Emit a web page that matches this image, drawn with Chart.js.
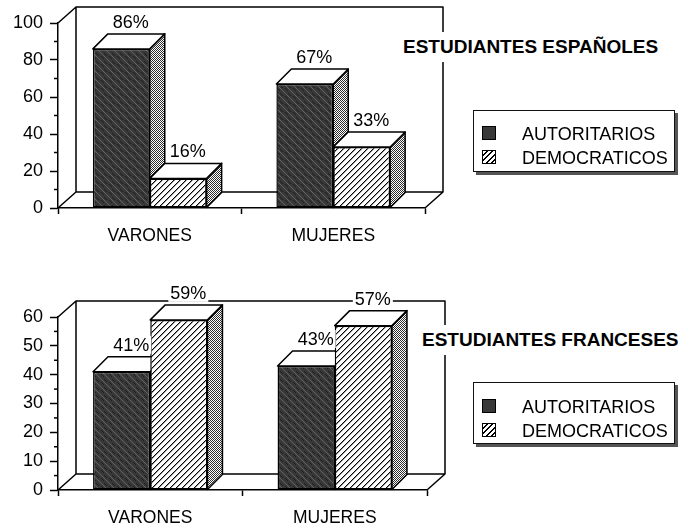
<!DOCTYPE html>
<html>
<head>
<meta charset="utf-8">
<script src="https://cdn.jsdelivr.net/npm/chart.js@4.4.1/dist/chart.umd.min.js"></script>
<style>
  html,body{margin:0;padding:0;background:#fff;}
  #wrap{position:relative;width:690px;height:530px;overflow:hidden;background:#fff;font-family:"Liberation Sans",Arial,sans-serif;color:#000;}
  canvas{position:absolute;left:0;}
  .title{position:absolute;font-weight:bold;font-size:19px;line-height:22px;background:#fff;padding:4px 2px;white-space:nowrap;}
  .legend{position:absolute;width:200px;height:60px;border:1.5px solid #111;box-shadow:3px 3px 0 #555;background:#fff;}
  .row{position:absolute;left:8px;height:20px;font-size:18px;line-height:20px;white-space:nowrap;}
  .sw{display:inline-block;width:12px;height:12px;border:1px solid #000;vertical-align:middle;margin-right:26px;position:relative;top:-2px;}
  .aut{background:#383838;}
  .dem{background:repeating-linear-gradient(135deg,#fff 0 2.4px,#000 2.4px 3.8px);}
</style>
</head>
<body>
<div id="wrap">
  <canvas id="c1" width="690" height="262" style="top:0"></canvas>
  <canvas id="c2" width="690" height="268" style="top:262px"></canvas>
  <div class="title" style="left:401px;top:32px">ESTUDIANTES ESPAÑOLES</div>
  <div class="legend" style="left:473px;top:110px">
    <div class="row" style="top:13px"><span class="sw aut"></span>AUTORITARIOS</div>
    <div class="row" style="top:37px"><span class="sw dem"></span>DEMOCRATICOS</div>
  </div>
  <div class="title" style="left:420px;top:325px">ESTUDIANTES FRANCESES</div>
  <div class="legend" style="left:473px;top:382px">
    <div class="row" style="top:14px"><span class="sw aut"></span>AUTORITARIOS</div>
    <div class="row" style="top:38px"><span class="sw dem"></span>DEMOCRATICOS</div>
  </div>
</div>
<script>
// ---- data ----
const categories = ['VARONES', 'MUJERES'];
const seriesNames = ['AUTORITARIOS', 'DEMOCRATICOS'];
const espAutoritarios = [86, 67];
const espDemocraticos = [16, 33];
const fraAutoritarios = [41, 43];
const fraDemocraticos = [59, 57];
const espTicks = [0, 20, 40, 60, 80, 100];
const fraTicks = [0, 10, 20, 30, 40, 50, 60];

// ---- patterns ----
function makePattern(size, fn) {
  const c = document.createElement('canvas');
  c.width = c.height = size;
  const g = c.getContext('2d');
  const img = g.createImageData(size, size);
  for (let y = 0; y < size; y++) for (let x = 0; x < size; x++) {
    const v = fn(x, y), i = (y * size + x) * 4;
    img.data[i] = img.data[i + 1] = img.data[i + 2] = v; img.data[i + 3] = 255;
  }
  g.putImageData(img, 0, 0);
  return g.createPattern(c, 'repeat');
}
const stipple = makePattern(8, (x, y) => ((x * 5 + y * 3) % 8 === 0) ? 100 : (((x * 3 + y * 7) % 5 === 0) ? 30 : 56));
const hatch = makePattern(6, (x, y) => { const k = (x + y) % 6; return k === 5 ? 0 : (k === 0 ? 150 : 255); });
const checker = makePattern(2, (x, y) => ((x + y) % 2) ? 255 : 45);

const FONT = "'Liberation Sans', Arial, sans-serif";

const cubePlugin = {
  id: 'cube',
  beforeDatasetsDraw(chart, args, o) {
    const ctx = chart.ctx, ca = chart.chartArea;
    const wx = o.wallX, wy = o.wallY, d = o.depth;
    ctx.save();
    ctx.strokeStyle = '#000'; ctx.lineWidth = 1.5; ctx.lineJoin = 'round';
    ctx.beginPath();
    ctx.moveTo(ca.left, ca.top); ctx.lineTo(ca.left + wx, ca.top - wy);
    ctx.lineTo(ca.right + wx, ca.top - wy); ctx.lineTo(ca.right + wx, ca.bottom - wy);
    ctx.lineTo(ca.right, ca.bottom);
    ctx.moveTo(ca.left, ca.bottom); ctx.lineTo(ca.left + wx, ca.bottom - wy);
    ctx.lineTo(ca.right + wx, ca.bottom - wy);
    ctx.moveTo(ca.left + wx, ca.top - wy); ctx.lineTo(ca.left + wx, ca.bottom - wy);
    ctx.stroke();
    const metas = chart.data.datasets.map((_, i) => chart.getDatasetMeta(i));
    const n = metas[0].data.length;
    for (let i = 0; i < n; i++) {
      for (const m of metas) {
        const el = m.data[i];
        const x0 = el.x - el.width / 2, x1 = el.x + el.width / 2, yT = el.y, yB = el.base;
        ctx.beginPath();
        ctx.moveTo(x1, yT); ctx.lineTo(x1 + d, yT - d); ctx.lineTo(x1 + d, yB - d); ctx.lineTo(x1, yB); ctx.closePath();
        ctx.fillStyle = checker; ctx.fill(); ctx.stroke();
        ctx.beginPath();
        ctx.moveTo(x0, yT); ctx.lineTo(x1, yT); ctx.lineTo(x1 + d, yT - d); ctx.lineTo(x0 + d, yT - d); ctx.closePath();
        ctx.fillStyle = '#fff'; ctx.fill(); ctx.stroke();
      }
    }
    ctx.restore();
  },
  afterDatasetsDraw(chart, args, o) {
    const ctx = chart.ctx, d = o.depth;
    ctx.save();
    ctx.font = '18px ' + FONT;
    ctx.textAlign = 'center'; ctx.textBaseline = 'middle';
    chart.data.datasets.forEach((ds, di) => {
      chart.getDatasetMeta(di).data.forEach((el, i) => {
        const t = ds.data[i] + '%';
        const cx = el.x + d / 2 + 2, cy = el.y - d - 12;
        const w = ctx.measureText(t).width + 4;
        ctx.fillStyle = '#fff'; ctx.fillRect(cx - w / 2, cy - 9, w, 18);
        ctx.fillStyle = '#000'; ctx.fillText(t, cx, cy + 1);
      });
    });
    ctx.restore();
  },
  afterDraw(chart, args, o) {
    const ctx = chart.ctx, s = chart.scales.y;
    ctx.save(); ctx.strokeStyle = '#000'; ctx.lineWidth = 1.5;
    const step = o.minorStep;
    for (let v = step; v < s.max; v += 2 * step) {
      const y = s.getPixelForValue(v);
      ctx.beginPath(); ctx.moveTo(s.right - 4, y); ctx.lineTo(s.right, y); ctx.stroke();
    }
    ctx.restore();
  }
};

function makeChart(id, aut, dem, ticks, area, canvasH, minorStep) {
  const max = ticks[ticks.length - 1];
  const stepSize = ticks[1] - ticks[0];
  return new Chart(document.getElementById(id), {
    type: 'bar',
    data: {
      labels: categories,
      datasets: [
        { label: seriesNames[0], data: aut, backgroundColor: stipple, borderColor: '#000', borderWidth: 1.5, borderSkipped: false },
        { label: seriesNames[1], data: dem, backgroundColor: hatch, borderColor: '#000', borderWidth: 1.5, borderSkipped: false }
      ]
    },
    options: {
      responsive: false, animation: false, devicePixelRatio: 1,
      categoryPercentage: 0.62, barPercentage: 1.0,
      layout: { padding: { top: area.top, left: 0, right: 690 - area.right, bottom: 0 } },
      plugins: {
        legend: { display: false }, tooltip: { enabled: false },
        cube: { wallX: 18, wallY: 16, depth: 15, minorStep: minorStep }
      },
      scales: {
        x: {
          grid: { display: true, drawOnChartArea: false, offset: true, tickLength: 6, tickWidth: 1.5, tickColor: '#000' },
          border: { display: true, color: '#000', width: 1.5 },
          ticks: { color: '#000', font: { family: FONT, size: 17.5 }, padding: 12, maxRotation: 0 },
          afterFit: s => { s.height = canvasH - area.bottom; }
        },
        y: {
          min: 0, max: max,
          grid: { display: true, drawOnChartArea: false, tickLength: 8, tickWidth: 1.5, tickColor: '#000' },
          border: { display: true, color: '#000', width: 1.5 },
          ticks: { stepSize: stepSize, color: '#000', font: { family: FONT, size: 18 }, padding: 7 },
          afterFit: s => { s.width = area.left; }
        }
      }
    },
    plugins: [cubePlugin]
  });
}

makeChart('c1', espAutoritarios, espDemocraticos, espTicks, { left: 58, right: 425, top: 23, bottom: 208 }, 262, 10);
makeChart('c2', fraAutoritarios, fraDemocraticos, fraTicks, { left: 58, right: 427, top: 55, bottom: 228 }, 268, 5);
</script>
</body>
</html>
